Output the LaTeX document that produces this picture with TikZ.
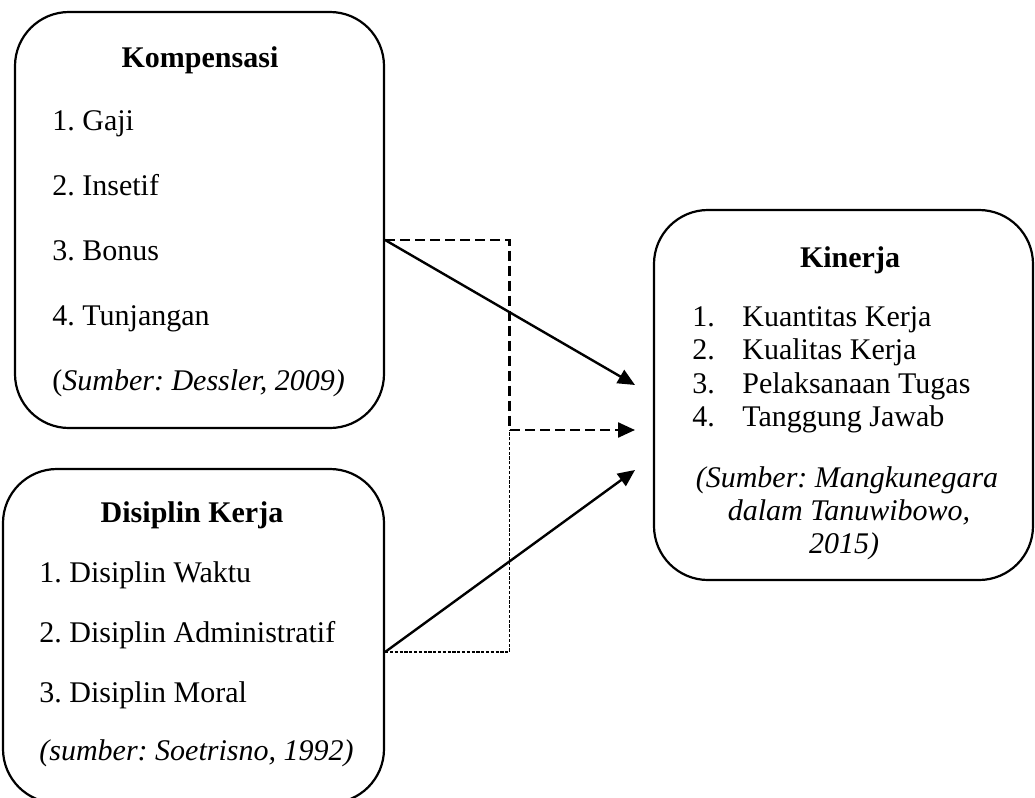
\documentclass[tikz,border=0pt]{standalone}
\usepackage{fontspec}
\setmainfont{Liberation Serif}
\usetikzlibrary{arrows.meta}

\tikzset{
  kotak/.style={draw, line width=1.1pt, rounded corners=27pt, inner sep=0pt},
  judul/.style={anchor=base, inner sep=0pt, font=\fontsize{15}{18}\selectfont\bfseries},
  isi/.style={anchor=base west, inner sep=0pt},
  sumber/.style={anchor=base, inner sep=0pt, font=\fontsize{15}{18}\selectfont\itshape},
  ujung/.style={-{Triangle[length=8.5pt,width=7.5pt]}},
  panah/.style={line width=1.2pt, ujung},
  putus/.style={line width=1.2pt, dash pattern=on 5pt off 2.5pt},
  titik/.style={line width=0.6pt, dash pattern=on 1.6pt off 0.8pt},
}

\begin{document}
\frenchspacing
\begin{tikzpicture}[x=0.5pt,y=-0.5pt,font=\fontsize{15}{18}\selectfont]
\useasboundingbox (0,0) rectangle (1035,798);

% kotak variabel
\node[kotak, minimum width=184.5pt, minimum height=208pt] (komp) at (199.5,220) {};
\node[kotak, minimum width=190.5pt, minimum height=167pt] (disip) at (193.5,636) {};
\node[kotak, minimum width=189.5pt, minimum height=185pt] (kin) at (843.5,395) {};

% Kompensasi
\node[judul] (kompJudul) at (200,67) {Kompensasi};
\node[isi] (komp1) at (52,130) {1. Gaji};
\node[isi] (komp2) at (52,195) {2. Insetif};
\node[isi] (komp3) at (52,260) {3. Bonus};
\node[isi] (komp4) at (52,325) {4. Tunjangan};
\node[isi] (kompSumber) at (52,390) {(\textit{Sumber: Dessler, 2009)}};

% Disiplin Kerja
\node[judul] (disipJudul) at (192,522) {Disiplin Kerja};
\node[isi] (disip1) at (39,582) {1. Disiplin Waktu};
\node[isi] (disip2) at (39,642) {2. Disiplin Administratif};
\node[isi] (disip3) at (39,702) {3. Disiplin Moral};
\node[isi] (disipSumber) at (39,760) {\textit{(sumber: Soetrisno, 1992)}};

% Kinerja
\node[judul] (kinJudul) at (850,267) {Kinerja};
\node[isi] (kin1) at (692,326) {\makebox[25pt][l]{1.}Kuantitas Kerja};
\node[isi] (kin2) at (692,359.5) {\makebox[25pt][l]{2.}Kualitas Kerja};
\node[isi] (kin3) at (692,393) {\makebox[25pt][l]{3.}Pelaksanaan Tugas};
\node[isi] (kin4) at (692,426.5) {\makebox[25pt][l]{4.}Tanggung Jawab};
\node[sumber] (kinSumber1) at (847,487) {(Sumber: Mangkunegara};
\node[sumber] (kinSumber2) at (849,520) {dalam Tanuwibowo,};
\node[sumber] (kinSumber3) at (844,553) {2015)};

% titik hubung
\coordinate (kompOut) at (komp.east |- 0,240);
\coordinate (disipOut) at (disip.east |- 0,652);
\coordinate (simpul) at (509.5,430);
\coordinate (kinA) at (635,385);
\coordinate (kinB) at (635,430);
\coordinate (kinC) at (635,470);

% panah
\draw[panah] (kompOut) -- (kinA);
\draw[panah] (disipOut) -- (kinC);
\draw[putus, ujung] (kompOut) -| (simpul) -- (kinB);
\draw[titik] (disipOut) -| (simpul);
\end{tikzpicture}
\end{document}
